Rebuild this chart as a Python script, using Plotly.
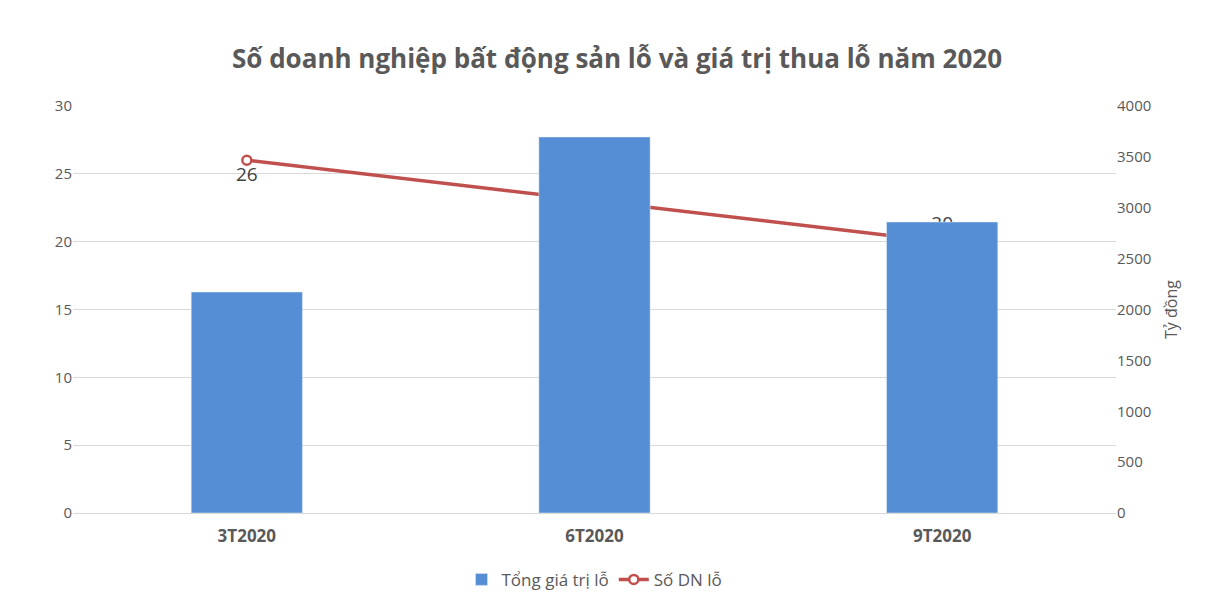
import plotly.graph_objects as go

categories = ["3T2020", "6T2020", "9T2020"]
loss_value = [2172, 3695, 2860]
num_firms = [26, 23, 20]
label_pos = ["bottom center", "top center", "top center"]

fig = go.Figure()
fig.add_trace(go.Bar(x=categories, y=loss_value, name="Tổng giá trị lỗ", marker_color="#558ED5",
                     width=0.32, yaxis="y2"))
fig.add_trace(go.Scatter(x=categories, y=num_firms, name="Số DN lỗ", mode="lines+markers+text",
                         line=dict(color="#C0504D", width=3.5),
                         marker=dict(symbol="circle", size=9, color="white", line=dict(color="#C0504D", width=2.5)),
                         text=[str(v) for v in num_firms], textposition=label_pos,
                         textfont=dict(size=19, color="#404040"), yaxis="y"))

fig.update_layout(
    width=1218, height=602, paper_bgcolor="white", plot_bgcolor="white",
    font=dict(family="Open Sans, Calibri, sans-serif", color="#595959", size=15),
    title=dict(text="<b>Số doanh nghiệp bất động sản lỗ và giá trị thua lỗ năm 2020</b>",
               x=0.5, xanchor="center", y=0.93, font=dict(size=26, color="#595959")),
    margin=dict(l=65, r=110, t=98, b=97),
    xaxis=dict(showline=True, linecolor="#D9D9D9", tickfont=dict(size=17, color="#595959"),
               ticklabelstandoff=8),
    yaxis=dict(range=[0, 30], dtick=5, showgrid=True, gridcolor="#D9D9D9", zeroline=False,
               tickfont=dict(size=15, color="#595959")),
    yaxis2=dict(range=[0, 4000], dtick=500, overlaying="y", side="right", showgrid=False,
                zeroline=False, tickfont=dict(size=15, color="#595959"),
                title=dict(text="Tỷ đồng", font=dict(size=16, color="#595959"))),
    legend=dict(orientation="h", x=0.5, xanchor="center", y=-0.12, yanchor="top",
                font=dict(size=17, color="#595959")),
    bargap=0.5,
)
fig.update_xaxes(tickprefix="<b>", ticksuffix="</b>")
fig.write_html("out.html")
